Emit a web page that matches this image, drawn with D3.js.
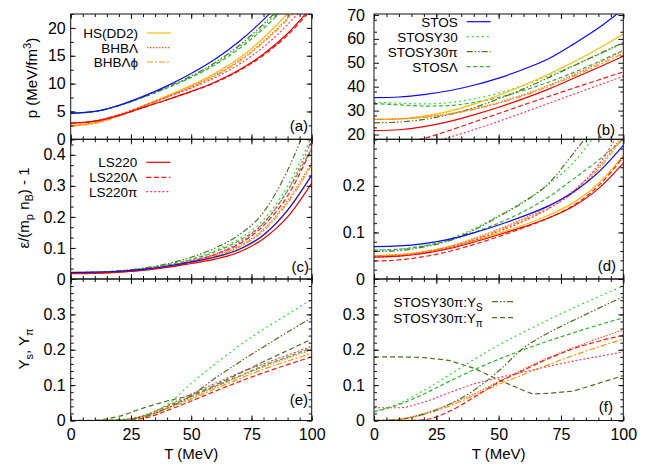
<!DOCTYPE html>
<html>
<head>
<meta charset="utf-8">
<script src="https://cdn.jsdelivr.net/npm/d3@7"></script>
<style>
body { margin: 0; background: #fff; }
text { font-family: "Liberation Sans", Arial, sans-serif; fill: #000; }
</style>
</head>
<body>
<div class="canvas"></div>
<script>
// temperature grid (MeV)
const T = [0, 10, 20, 30, 40, 50, 60, 70, 80, 90, 100]
const T_pi = [0, 10, 20, 30, 40, 50, 60, 63.5, 70, 80, 90, 100]

// (a) pressure, low density
const a_STOS     = [4.66, 5.0, 6.1, 7.7, 9.6, 11.8, 14.4, 17.6, 21.5, 26.0, 31.2]
const a_STOSY30  = [4.66, 5.0, 6.05, 7.55, 9.3, 11.2, 13.6, 16.6, 20.3, 24.6, 29.6]
const a_STOSY30pi= [4.66, 5.0, 6.05, 7.6, 9.4, 11.35, 13.8, 16.9, 20.7, 25.1, 30.2]
const a_STOSL    = [4.66, 5.0, 6.05, 7.5, 9.2, 11.1, 13.4, 16.3, 19.9, 24.2, 29.2]
const a_HS       = [2.5, 3.0, 4.3, 6.0, 7.8, 9.7, 11.9, 14.6, 18.2, 22.6, 27.6]
const a_BHBL     = [2.45, 2.95, 4.25, 5.9, 7.65, 9.5, 11.6, 14.2, 17.6, 21.8, 26.6]
const a_BHBLphi  = [2.35, 2.85, 4.15, 5.8, 7.55, 9.35, 11.4, 14.0, 17.4, 21.5, 26.3]
const a_LS220    = [2.9, 3.25, 4.3, 5.7, 7.1, 8.6, 10.3, 12.5, 15.3, 19.0, 23.8]
const a_LS220L   = [2.9, 3.25, 4.3, 5.7, 7.1, 8.55, 10.2, 12.35, 15.1, 18.7, 23.4]
const a_LS220pi  = [2.9, 3.3, 4.45, 6.0, 7.6, 9.2, 11.1, 13.5, 16.6, 20.6, 25.5]

// (b) pressure, high density
const b_STOS     = [35.4, 35.7, 36.7, 38.3, 40.6, 43.6, 47.3, 51.7, 57.8, 64.5, 72.5]
const b_STOSY30  = [33.6, 33.1, 32.8, 33.3, 34.9, 37.3, 40.6, 44.5, 48.8, 53.4, 58.2]
const b_STOSY30pi= [24.9, 25.2, 26.3, 28.3, 31.2, 34.9, 39.1, 43.8, 48.7, 53.6, 58.5]
const b_STOSL    = [33.0, 32.4, 31.9, 32.1, 33.4, 35.5, 38.4, 41.9, 45.9, 50.4, 55.3]
const b_HS       = [26.3, 26.6, 27.7, 29.7, 32.7, 36.4, 40.6, 45.2, 50.3, 55.9, 62.0]
const b_BHBL     = [26.3, 26.5, 27.2, 28.6, 30.7, 33.4, 36.7, 40.6, 45.0, 49.8, 55.0]
const b_BHBLphi  = [26.3, 26.5, 27.2, 28.5, 30.5, 33.1, 36.3, 40.1, 44.4, 49.0, 54.0]
const b_LS220    = [21.6, 22.0, 23.3, 25.4, 28.2, 31.4, 35.0, 39.0, 43.5, 48.0, 52.7]
const b_LS220L   = [14.5, 16.2, 18.4, 21.6, 25.2, 28.8, 32.4, 35.9, 39.4, 42.8, 46.2]
const b_LS220pi  = [12.5, 14.0, 16.0, 18.8, 22.0, 25.5, 29.2, 33.0, 36.8, 40.6, 44.4]

// (c) energy per baryon, low density
const c_STOS     = [0.021, 0.022, 0.025, 0.031, 0.041, 0.055, 0.071, 0.096, 0.142, 0.222, 0.335]
const c_STOSY30  = [0.021, 0.022, 0.026, 0.034, 0.046, 0.064, 0.092, 0.130, 0.190, 0.300, 0.460]
const c_STOSY30pi= [0.021, 0.022, 0.026, 0.035, 0.049, 0.070, 0.100, 0.143, 0.215, 0.350, 0.540]
const c_STOSL    = [0.021, 0.022, 0.026, 0.033, 0.045, 0.062, 0.088, 0.124, 0.180, 0.285, 0.420]
const c_HS       = [0.017, 0.018, 0.022, 0.029, 0.039, 0.053, 0.069, 0.094, 0.140, 0.220, 0.335]
const c_BHBL     = [0.017, 0.018, 0.022, 0.029, 0.040, 0.056, 0.076, 0.106, 0.160, 0.252, 0.375]
const c_BHBLphi  = [0.017, 0.018, 0.022, 0.029, 0.040, 0.055, 0.074, 0.103, 0.155, 0.245, 0.368]
const c_LS220    = [0.018, 0.019, 0.022, 0.028, 0.037, 0.050, 0.064, 0.087, 0.130, 0.200, 0.309]
const c_LS220L   = [0.018, 0.019, 0.023, 0.030, 0.041, 0.057, 0.079, 0.113, 0.172, 0.268, 0.420]
const c_LS220pi  = [0.018, 0.019, 0.023, 0.030, 0.042, 0.058, 0.081, 0.118, 0.180, 0.285, 0.445]

// (d) energy per baryon, high density
const d_STOS     = [0.0695, 0.071, 0.076, 0.085, 0.099, 0.116, 0.135, 0.157, 0.187, 0.229, 0.287]
const d_STOSY30  = [0.062, 0.064, 0.072, 0.086, 0.108, 0.136, 0.167, 0.203, 0.250, 0.320, 0.410]
const d_STOSY30pi= [0.059, 0.061, 0.069, 0.082, 0.105, 0.134, 0.165, 0.205, 0.270, 0.340, 0.430]
const d_STOSL    = [0.062, 0.064, 0.071, 0.083, 0.100, 0.120, 0.145, 0.176, 0.215, 0.255, 0.300]
const d_HS       = [0.050, 0.052, 0.058, 0.068, 0.082, 0.098, 0.116, 0.137, 0.164, 0.205, 0.265]
const d_BHBL     = [0.050, 0.052, 0.059, 0.070, 0.087, 0.107, 0.130, 0.156, 0.190, 0.240, 0.312]
const d_BHBLphi  = [0.050, 0.052, 0.058, 0.069, 0.085, 0.105, 0.127, 0.152, 0.185, 0.235, 0.305]
const d_LS220    = [0.047, 0.049, 0.055, 0.065, 0.079, 0.095, 0.112, 0.131, 0.156, 0.194, 0.249]
const d_LS220L   = [0.0387, 0.041, 0.048, 0.059, 0.074, 0.091, 0.110, 0.131, 0.158, 0.200, 0.262]
const d_LS220pi  = [0.047, 0.049, 0.056, 0.067, 0.083, 0.102, 0.124, 0.151, 0.188, 0.245, 0.330]

// (e) strangeness / pion fractions, low density
const e_STOSY30  = [0, 0, 0.002, 0.012, 0.045, 0.105, 0.160, 0.212, 0.258, 0.300, 0.342]
const e_STOSY30pi= [0, 0, 0.002, 0.010, 0.035, 0.070, 0.120, 0.165, 0.208, 0.250, 0.290]
const e_Ypi      = [0, 0.001, 0.012, 0.035, 0.055, 0.072, 0.100, 0.133, 0.166, 0.198, 0.230]
const e_STOSL    = [0, 0, 0.001, 0.012, 0.040, 0.068, 0.097, 0.126, 0.155, 0.180, 0.205]
const e_BHBL     = [0, 0, 0.001, 0.011, 0.035, 0.064, 0.095, 0.124, 0.152, 0.177, 0.200]
const e_BHBLphi  = [0, 0, 0.001, 0.010, 0.033, 0.060, 0.090, 0.118, 0.145, 0.168, 0.190]
const e_LS220L   = [0, 0, 0, 0.006, 0.028, 0.055, 0.083, 0.110, 0.135, 0.158, 0.180]
const e_LS220pi  = [0, 0, 0.002, 0.014, 0.042, 0.075, 0.105, 0.135, 0.160, 0.185, 0.210]

// (f) strangeness / pion fractions, high density
const f_STOSY30  = [0.025, 0.048, 0.085, 0.128, 0.172, 0.213, 0.250, 0.285, 0.318, 0.350, 0.380]
const f_STOSY30pi= [0, 0.003, 0.018, 0.045, 0.085, 0.140, 0.205, 0.248, 0.283, 0.317, 0.350]
const f_Ypi      = [0.180, 0.180, 0.178, 0.170, 0.148, 0.115, 0.085, 0.075, 0.077, 0.083, 0.105, 0.127]
const f_STOSL    = [0.025, 0.045, 0.075, 0.110, 0.143, 0.173, 0.200, 0.225, 0.248, 0.270, 0.290]
const f_BHBL     = [0, 0.004, 0.020, 0.045, 0.075, 0.110, 0.145, 0.178, 0.206, 0.232, 0.256]
const f_BHBLphi  = [0, 0.003, 0.017, 0.040, 0.070, 0.102, 0.130, 0.158, 0.184, 0.208, 0.230]
const f_LS220L   = [0, 0, 0.002, 0.025, 0.065, 0.108, 0.142, 0.175, 0.203, 0.224, 0.241]
const f_LS220pi  = [0.036, 0.036, 0.052, 0.078, 0.103, 0.121, 0.137, 0.153, 0.168, 0.181, 0.194]

const styles = {
    STOS:     {color: '#0a0aff', dash: null},
    STOSY30:  {color: '#33dd33', dash: '2,3'},
    STOSY30pi:{color: '#4f6f22', dash: '6,2,1.5,2,1.5,2'},
    STOSL:    {color: '#33b033', dash: '4,2.5'},
    HS:       {color: '#ffbb00', dash: null},
    BHBL:     {color: '#ff5f2a', dash: '1.5,1.5'},
    BHBLphi:  {color: '#ff9a10', dash: '6,2,2,2'},
    LS220:    {color: '#ee0000', dash: null},
    LS220L:   {color: '#ee1a1a', dash: '5,2.5'},
    LS220pi:  {color: '#ff3b5c', dash: '2,2'},
    Ypi:      {color: '#4f6f22', dash: '5,3'}
}

const cols = {L: [70.7, 311.7], R: [374, 623.3]}
const rows = [[14, 139.3], [139.3, 279], [279, 420.5]]

const fmt1 = d => d === 0 ? '0' : d3.format('.1f')(d)

const panels = [
    {key: 'a', col: 'L', row: 0, ydom: [0, 22.5], major: [0, 5, 10, 15, 20], minor: 2.5, fmt: d3.format('d'),
     tag: '(a)', tagPos: [308, 131],
     series: {STOSY30: a_STOSY30, STOSL: a_STOSL, STOSY30pi: a_STOSY30pi, HS: a_HS, BHBL: a_BHBL, BHBLphi: a_BHBLphi,
              LS220L: a_LS220L, LS220pi: a_LS220pi, LS220: a_LS220, STOS: a_STOS},
     legend: {x: 138, items: [['HS(DD2)', 'HS'], ['BHBΛ', 'BHBL'], ['BHBΛϕ', 'BHBLphi']], ys: [33, 47.7, 62]}},
    {key: 'b', col: 'R', row: 0, ydom: [18, 70.4], major: [20, 30, 40, 50, 60, 70], minor: 5, fmt: d3.format('d'),
     tag: '(b)', tagPos: [615, 135],
     series: {STOSY30: b_STOSY30, STOSL: b_STOSL, STOSY30pi: b_STOSY30pi, HS: b_HS, BHBL: b_BHBL, BHBLphi: b_BHBLphi,
              LS220L: b_LS220L, LS220pi: b_LS220pi, LS220: b_LS220, STOS: b_STOS},
     legend: {x: 457.7, items: [['STOS', 'STOS'], ['STOSY30', 'STOSY30'], ['STOSY30π', 'STOSY30pi'], ['STOSΛ', 'STOSL']], ys: [21.7, 36.7, 51.7, 66.7]}},
    {key: 'c', col: 'L', row: 1, ydom: [0, 0.45], major: [0, 0.1, 0.2, 0.3, 0.4], minor: 0.1 / 3, fmt: fmt1,
     tag: '(c)', tagPos: [309, 272],
     series: {STOSY30: c_STOSY30, STOSL: c_STOSL, STOSY30pi: c_STOSY30pi, HS: c_HS, BHBL: c_BHBL, BHBLphi: c_BHBLphi,
              LS220L: c_LS220L, LS220pi: c_LS220pi, LS220: c_LS220, STOS: c_STOS},
     legend: {x: 137.3, items: [['LS220', 'LS220'], ['LS220Λ', 'LS220L'], ['LS220π', 'LS220pi']], ys: [162.3, 177.3, 191.7]}},
    {key: 'd', col: 'R', row: 1, ydom: [0, 0.3], major: [0, 0.1, 0.2], minor: 0.02, fmt: fmt1,
     tag: '(d)', tagPos: [616, 271],
     series: {STOSY30: d_STOSY30, STOSL: d_STOSL, STOSY30pi: d_STOSY30pi, HS: d_HS, BHBL: d_BHBL, BHBLphi: d_BHBLphi,
              LS220L: d_LS220L, LS220pi: d_LS220pi, LS220: d_LS220, STOS: d_STOS}},
    {key: 'e', col: 'L', row: 2, ydom: [0, 0.4], major: [0, 0.1, 0.2, 0.3], minor: 0.02, fmt: fmt1,
     tag: '(e)', tagPos: [308, 405],
     series: {Ypi: e_Ypi, STOSL: e_STOSL, BHBL: e_BHBL, BHBLphi: e_BHBLphi, LS220L: e_LS220L, LS220pi: e_LS220pi,
              STOSY30pi: e_STOSY30pi, STOSY30: e_STOSY30}},
    {key: 'f', col: 'R', row: 2, ydom: [0, 0.4], major: [0, 0.1, 0.2, 0.3], minor: 0.02, fmt: fmt1,
     tag: '(f)', tagPos: [613, 412],
     series: {Ypi: f_Ypi, STOSL: f_STOSL, BHBL: f_BHBL, BHBLphi: f_BHBLphi, LS220L: f_LS220L, LS220pi: f_LS220pi,
              STOSY30pi: f_STOSY30pi, STOSY30: f_STOSY30},
     legend: {x: 482.7, items: [['STOSY30π:Y', 'STOSY30pi', 'S'], ['STOSY30π:Y', 'Ypi', 'π']], ys: [301.7, 317.7], x1: 492, x2: 515}}
]

const svg = d3.select('.canvas')
    .append('svg')
    .attr('width', 664)
    .attr('height', 465)

const defs = svg.append('defs')

const styleAxis = (g, size) => {
    g.select('.domain').remove()
    g.selectAll('line').attr('stroke', '#111')
    g.selectAll('text').attr('font-size', size).attr('font-family', '"Liberation Sans", Arial, sans-serif').attr('fill', '#000')
}

panels.forEach(p => {
    const [x0, x1] = cols[p.col]
    const [y0, y1] = rows[p.row]
    const x = d3.scaleLinear().domain([0, 100]).range([x0, x1])
    const y = d3.scaleLinear().domain(p.ydom).range([y1, y0])
    const g = svg.append('g')

    defs.append('clipPath').attr('id', 'clip-' + p.key)
        .append('rect').attr('x', x0).attr('y', y0).attr('width', x1 - x0).attr('height', y1 - y0)

    // lines
    const lines = g.append('g').attr('clip-path', `url(#clip-${p.key})`)
    Object.keys(p.series).forEach(name => {
        const vals = p.series[name]
        const ts = vals.length === T_pi.length ? T_pi : T
        const line = d3.line()
            .x((d, i) => x(ts[i]))
            .y(d => y(d))
            .curve(name === 'Ypi' && ts === T_pi ? d3.curveLinear : d3.curveMonotoneX)
        lines.append('path')
            .attr('d', line(vals))
            .attr('fill', 'none')
            .attr('stroke', styles[name].color)
            .attr('stroke-width', 1.2)
            .attr('stroke-dasharray', styles[name].dash)
    })

    // ticks
    const minorY = d3.range(p.ydom[0], p.ydom[1] + 1e-6, p.minor).filter(v => v >= p.ydom[0])
    const minorX = d3.range(0, 101, 5)
    const majorX = [0, 25, 50, 75, 100]
    const pad = p.col === 'L' ? 5 : 9

    g.append('g').attr('transform', `translate(${x0},0)`)
        .call(d3.axisLeft(y).tickValues(minorY).tickSizeInner(-3).tickSizeOuter(0).tickFormat(''))
        .call(a => styleAxis(a, 16))
    g.append('g').attr('transform', `translate(${x1},0)`)
        .call(d3.axisRight(y).tickValues(minorY).tickSizeInner(-3).tickSizeOuter(0).tickFormat(''))
        .call(a => styleAxis(a, 16))
    g.append('g').attr('transform', `translate(${x0},0)`)
        .call(d3.axisLeft(y).tickValues(p.major).tickSizeInner(-5).tickSizeOuter(0).tickPadding(pad).tickFormat(p.fmt))
        .call(a => styleAxis(a, 16))
    g.append('g').attr('transform', `translate(${x1},0)`)
        .call(d3.axisRight(y).tickValues(p.major).tickSizeInner(-5).tickSizeOuter(0).tickFormat(''))
        .call(a => styleAxis(a, 16))

    g.append('g').attr('transform', `translate(0,${y0})`)
        .call(d3.axisTop(x).tickValues(minorX).tickSizeInner(-3).tickSizeOuter(0).tickFormat(''))
        .call(a => styleAxis(a, 16))
    g.append('g').attr('transform', `translate(0,${y0})`)
        .call(d3.axisTop(x).tickValues(majorX).tickSizeInner(-5).tickSizeOuter(0).tickFormat(''))
        .call(a => styleAxis(a, 16))
    g.append('g').attr('transform', `translate(0,${y1})`)
        .call(d3.axisBottom(x).tickValues(minorX).tickSizeInner(-3).tickSizeOuter(0).tickFormat(''))
        .call(a => styleAxis(a, 16))
    g.append('g').attr('transform', `translate(0,${y1})`)
        .call(d3.axisBottom(x).tickValues(majorX).tickSizeInner(-5).tickSizeOuter(0).tickPadding(8)
            .tickFormat(p.row === 2 ? d3.format('d') : ''))
        .call(a => styleAxis(a, 16))

    // frame
    g.append('rect')
        .attr('x', x0).attr('y', y0)
        .attr('width', x1 - x0).attr('height', y1 - y0)
        .attr('fill', 'none')
        .attr('stroke', '#111')
        .attr('stroke-width', 1)

    // panel tag
    g.append('text')
        .attr('x', p.tagPos[0]).attr('y', p.tagPos[1])
        .attr('text-anchor', 'end')
        .attr('font-size', 15)
        .text(p.tag)

    // legend
    if (p.legend) {
        const lg = g.append('g')
        const lx1 = p.legend.x1 || p.legend.x + 9
        const lx2 = p.legend.x2 || p.legend.x + 33
        p.legend.items.forEach((it, i) => {
            const cy = p.legend.ys[i]
            const t = lg.append('text')
                .attr('x', p.legend.x).attr('y', cy + 5)
                .attr('text-anchor', 'end')
                .attr('font-size', 13.5)
            t.append('tspan').text(it[0])
            if (it[2]) t.append('tspan').attr('font-size', 10).attr('dy', 4).text(it[2])
            lg.append('line')
                .attr('x1', lx1).attr('x2', lx2)
                .attr('y1', cy).attr('y2', cy)
                .attr('stroke', styles[it[1]].color)
                .attr('stroke-width', 1.2)
                .attr('stroke-dasharray', styles[it[1]].dash)
        })
    }
})

// axis titles
const pLab = svg.append('text')
    .attr('transform', 'translate(37,78) rotate(-90)')
    .attr('text-anchor', 'middle')
    .attr('font-size', 15)
pLab.append('tspan').text('p (MeV/fm')
pLab.append('tspan').attr('font-size', 11).attr('dy', -6).text('3')
pLab.append('tspan').attr('dy', 6).text(')')

const eLab = svg.append('text')
    .attr('transform', 'translate(29,208) rotate(-90)')
    .attr('text-anchor', 'middle')
    .attr('font-size', 15)
eLab.append('tspan').text('ε/(m')
eLab.append('tspan').attr('font-size', 11).attr('dy', 4).text('p')
eLab.append('tspan').attr('dy', -4).text(' n')
eLab.append('tspan').attr('font-size', 11).attr('dy', 4).text('B')
eLab.append('tspan').attr('dy', -4).text(') - 1')

const yLab = svg.append('text')
    .attr('transform', 'translate(29,349) rotate(-90)')
    .attr('text-anchor', 'middle')
    .attr('font-size', 15)
yLab.append('tspan').text('Y')
yLab.append('tspan').attr('font-size', 11).attr('dy', 4).text('s')
yLab.append('tspan').attr('dy', -4).text(', Y')
yLab.append('tspan').attr('font-size', 11).attr('dy', 4).text('π')

svg.selectAll('.tlabel')
    .data([(cols.L[0] + cols.L[1]) / 2, (cols.R[0] + cols.R[1]) / 2])
    .enter()
    .append('text')
    .attr('class', 'tlabel')
    .attr('x', d => d).attr('y', 459)
    .attr('text-anchor', 'middle')
    .attr('font-size', 15)
    .text('T (MeV)')
</script>
</body>
</html>
